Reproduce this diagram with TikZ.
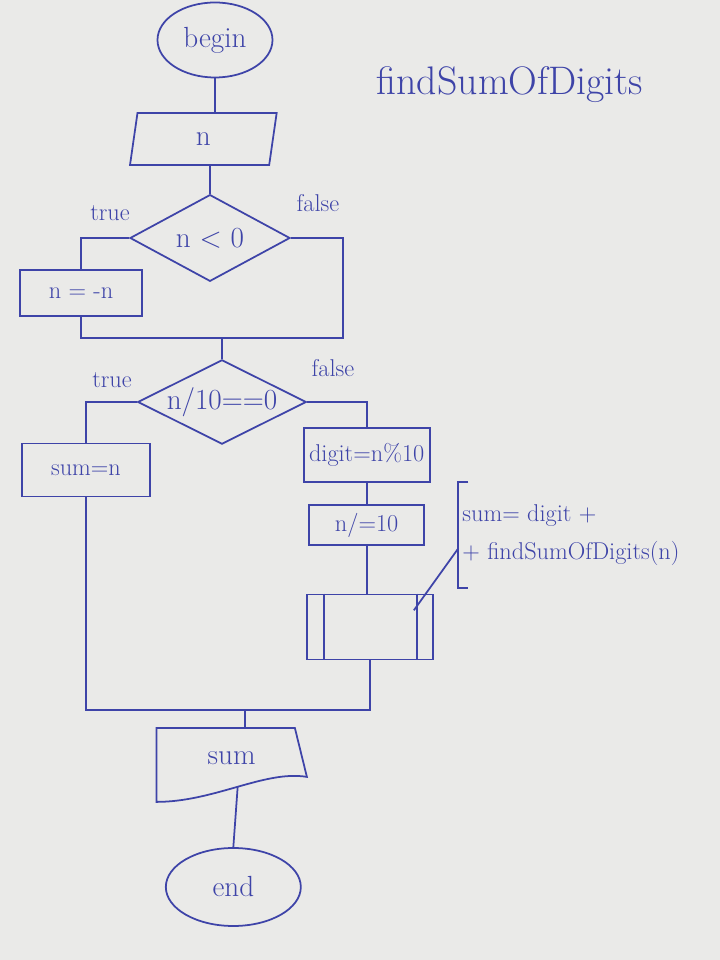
\documentclass[tikz,border=0pt]{standalone}
\usepackage{xcolor}
\usetikzlibrary{shapes.geometric}
\definecolor{ink}{RGB}{62,68,168}
\definecolor{paper}{RGB}{234,234,232}
\tikzstyle{flow}=[line width=1.5pt, color=ink]
\tikzstyle{terminal}=[ellipse, draw, flow, minimum width=3.45cm, minimum height=2.25cm]
\tikzstyle{io}=[trapezium, trapezium left angle=70, trapezium right angle=110, trapezium stretches body, draw, flow, minimum width=4.4cm, minimum height=1.56cm]
\tikzstyle{decision}=[diamond, draw, flow, aspect=2, inner sep=0pt]
\tikzstyle{process}=[rectangle, draw, flow]
\tikzstyle{label}=[text=ink]

\begin{document}
\begin{tikzpicture}
  \fill[paper] (0,0) rectangle (21.6,28.8);
  \useasboundingbox (0,0) rectangle (21.6,28.8);

  \draw (6.45,27.6) node[terminal] (begin) {\Huge begin};
  \draw (15.3,26.25) node[label] (title) {\fontsize{34}{40}\selectfont findSumOfDigits};
  \draw (6.1,24.63) node[io] (in) {\Huge n};

  %% first test
  \draw (6.3,21.66) node[decision, minimum width=4.8cm, minimum height=2.6cm] (dec1) {\Huge n < 0};
  \draw (3.3,22.41) node[label] (t1) {\huge true};
  \draw (9.54,22.71) node[label] (f1) {\huge false};
  \draw (2.43,20.01) node[process, minimum width=3.66cm, minimum height=1.38cm] (neg) {\huge n = -n};
  \coordinate (j1) at (6.66,18.66);
  \coordinate (k1) at (10.29,18.66);

  %% second test
  \draw (6.66,16.74) node[decision, minimum width=4.86cm, minimum height=2.01cm] (dec2) {\Huge n/10==0};
  \draw (3.36,17.4) node[label] (t2) {\huge true};
  \draw (9.99,17.76) node[label] (f2) {\huge false};
  \draw (2.58,14.7) node[process, minimum width=3.84cm, minimum height=1.59cm] (sumn) {\huge sum=n};
  \draw (11.0,15.15) node[process, minimum width=3.78cm, minimum height=1.62cm] (digit) {\huge digit=n\%10};
  \draw (11.0,13.05) node[process, minimum width=3.45cm, minimum height=1.2cm] (div) {\huge n/=10};
  \draw (11.1,9.99) node[process, minimum width=3.78cm, minimum height=1.95cm] (sub) {};
  \draw[flow] ([xshift=0.54cm]sub.north west) -- ([xshift=0.54cm]sub.south west);
  \draw[flow] ([xshift=-0.5cm]sub.north east) -- ([xshift=-0.5cm]sub.south east);

  %% comment
  \draw (13.75,12.75) node[label, anchor=west, align=left, minimum height=3.18cm] (note) {\huge sum= digit +\\[12pt]\huge + findSumOfDigits(n)};
  \draw[flow] ([xshift=0.3cm]note.north west) -- (note.north west) -- (note.south west) -- ([xshift=0.3cm]note.south west);
  \coordinate (subin) at ([xshift=-0.6cm,yshift=-0.5cm]sub.north east);
  \draw[flow] (subin) -- ([yshift=-0.4cm]note.west);

  %% output and end
  \coordinate (j2) at (7.35,7.5);
  \draw (6.95,5.85) node[label, minimum width=4.5cm, minimum height=2.2cm] (out) {};
  \draw (6.95,6.05) node[label] (outtext) {\Huge sum};
  \draw[flow] (out.north west) -- ([xshift=-0.36cm]out.north east) -- ([yshift=0.75cm]out.south east)
    .. controls ([xshift=-1.26cm,yshift=0.96cm]out.south east) and ([xshift=1.74cm]out.south west) .. coordinate[pos=0.5] (outbot) (out.south west) -- cycle;
  \draw (7.0,2.19) node[terminal, minimum width=4.05cm, minimum height=2.34cm] (end) {\Huge end};

  %% connectors
  \draw[flow] (begin.south) -- (begin.south |- in.north);
  \draw[flow] (in.south -| dec1.north) -- (dec1.north);
  \draw[flow] (dec1.west) -| (neg.north);
  \draw[flow] (dec1.east) -| (k1) -- (j1);
  \draw[flow] (neg.south) |- (j1);
  \draw[flow] (j1) -- (dec2.north);
  \draw[flow] (dec2.west) -| (sumn.north);
  \draw[flow] (dec2.east) -| (digit.north);
  \draw[flow] (digit) -- (div);
  \draw[flow] (div.south) -- (div.south |- sub.north);
  \draw[flow] (sumn.south) |- (j2);
  \draw[flow] (sub.south) |- (j2);
  \draw[flow] (j2) -- (j2 |- out.north);
  \draw[flow] (outbot) -- (end.north);
\end{tikzpicture}
\end{document}
